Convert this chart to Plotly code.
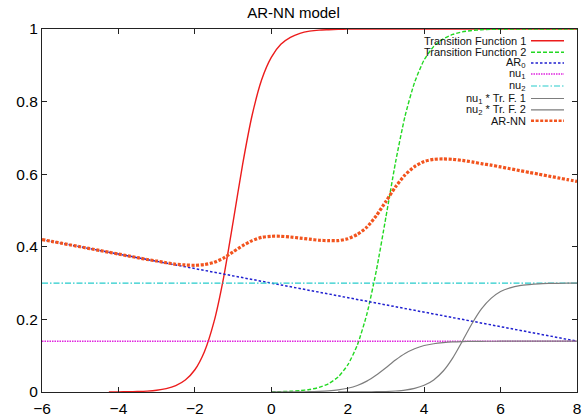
import numpy as np
import plotly.graph_objects as go

# sample positions along x (step 0.25 from -6 to 8)
x_grid = np.round(np.arange(-6, 8.001, 0.25), 2)

# Transition Function 1 (sampled from x = -4.25)
tf1_x = x_grid[7:]
tf1 = [0.0002, 0.0004, 0.0007, 0.0013, 0.0025, 0.0048, 0.0092, 0.0175, 0.0329, 0.0612,
       0.111, 0.193, 0.314, 0.468, 0.627, 0.763, 0.861, 0.922, 0.958, 0.977,
       0.988, 0.994, 0.997, 0.998, 0.999] + [1.0] * 25

# Transition Function 2 (sampled from x = 0)
tf2_x = x_grid[24:]
tf2 = [0.0006, 0.0011, 0.002, 0.0037, 0.0069, 0.0126, 0.023, 0.0415, 0.0744, 0.129,
       0.214, 0.335, 0.482, 0.632, 0.76, 0.853, 0.915, 0.952, 0.973, 0.985,
       0.992, 0.996, 0.998, 0.999, 0.999] + [1.0] * 8

# linear AR part, end points
ar0_x = [-6, 8]
ar0 = [0.42, 0.14]

# constant weights
nu1 = 0.14
nu2 = 0.30

# weighted transition curves
w1_x = x_grid[24:]
w1 = [0.0001, 0.0002, 0.0003, 0.0005, 0.001, 0.0018, 0.0032, 0.0058, 0.0104, 0.018,
      0.030, 0.047, 0.067, 0.088, 0.106, 0.119, 0.128, 0.133, 0.136, 0.138,
      0.139, 0.1394, 0.1397, 0.1398, 0.1399] + [0.14] * 8

w2_x = x_grid[31:]
w2 = [0.0001, 0.0001, 0.0002, 0.0004, 0.0008, 0.0014, 0.0028, 0.0052, 0.0099, 0.0184,
      0.0333, 0.0578, 0.0942, 0.14, 0.188, 0.229, 0.258, 0.277, 0.287, 0.293,
      0.296, 0.298, 0.299, 0.2995, 0.2997, 0.2998]

# full AR-NN output
arnn_x = x_grid
arnn = [0.420, 0.415, 0.410, 0.405, 0.400, 0.395, 0.390, 0.385, 0.380, 0.375,
        0.370, 0.365, 0.361, 0.356, 0.352, 0.350, 0.349, 0.351, 0.357, 0.369,
        0.386, 0.403, 0.417, 0.426, 0.429, 0.429, 0.427, 0.424, 0.421, 0.418,
        0.417, 0.417, 0.422, 0.434, 0.454, 0.486, 0.525, 0.565, 0.598, 0.621,
        0.635, 0.641, 0.642, 0.641, 0.638, 0.634, 0.629, 0.625, 0.620, 0.615,
        0.610, 0.605, 0.600, 0.595, 0.590, 0.585, 0.580]

x_ticks = [-6, -4, -2, 0, 2, 4, 6, 8]
y_ticks = [0, 0.2, 0.4, 0.6, 0.8, 1]
y_tick_text = ["0", "0.2", "0.4", "0.6", "0.8", "1"]

# series styles: (label, x, y, color, width, dash)
series = [
    ("Transition Function 1", tf1_x, tf1, "#ec1c1c", 1.4, "solid"),
    ("Transition Function 2", tf2_x, tf2, "#22d822", 1.4, "4px,2px"),
    ("AR<sub>0</sub>", ar0_x, ar0, "#2020d0", 1.5, "2.5px,2px"),
    ("nu<sub>1</sub>", [-6, 8], [nu1, nu1], "#e024e0", 1.5, "1.5px,1px"),
    ("nu<sub>2</sub>", [-6, 8], [nu2, nu2], "#26cccc", 1.2, "6px,2px,1.5px,2px"),
    ("nu<sub>1</sub> * Tr. F. 1", w1_x, w1, "#7d7d7d", 1.2, "solid"),
    ("nu<sub>2</sub> * Tr. F. 2", w2_x, w2, "#7d7d7d", 1.2, "solid"),
    ("AR-NN", arnn_x, arnn, "#f2541e", 3.2, "3px,1.6px"),
]

fig = go.Figure()
for name, xs, ys, color, width, dash in series:
    fig.add_trace(go.Scatter(
        x=list(xs), y=list(ys), mode="lines", name=name, showlegend=False,
        line=dict(color=color, width=width, dash=dash, shape="spline", smoothing=0.6),
    ))

# key in the upper right corner: right-aligned text with a line sample after it
L, R, T, B = 42, 10, 29, 28
W, H = 587, 420
pw, ph = W - L - R, H - T - B
key_text_x = (527 - L) / pw
key_x0 = (531 - L) / pw
key_x1 = (564 - L) / pw
key_rows_px = [40.7, 52.3, 63.0, 74.0, 86.0, 98.5, 109.8, 120.7]
for (name, xs, ys, color, width, dash), ypx in zip(series, key_rows_px):
    yp = (H - B - ypx) / ph
    fig.add_annotation(
        x=key_text_x, y=yp, xref="paper", yref="paper", text=name, showarrow=False,
        xanchor="right", yanchor="middle", borderpad=0,
        font=dict(family="Liberation Sans, Arial, sans-serif", size=11, color="#111"),
    )
    fig.add_shape(
        type="line", xref="paper", yref="paper", x0=key_x0, x1=key_x1, y0=yp, y1=yp,
        line=dict(color=color, width=min(width, 2.6), dash=dash),
    )

axis_common = dict(
    showline=True, mirror="ticks", linecolor="#222", linewidth=1,
    ticks="inside", ticklen=5, tickcolor="#222", showgrid=False, zeroline=False,
    automargin=False,
    tickfont=dict(family="Liberation Sans, Arial, sans-serif", size=15.5, color="#000"),
)

fig.update_layout(
    width=W, height=H,
    margin=dict(l=L, r=R, t=T, b=B),
    paper_bgcolor="white", plot_bgcolor="white",
    title=dict(text="AR-NN model", x=0.5, xref="container", y=1 - 13 / H, yanchor="middle",
               font=dict(family="Liberation Sans, Arial, sans-serif", size=15, color="#000")),
    xaxis=dict(range=[-6, 8], tickvals=x_ticks, ticklabelstandoff=2, **axis_common),
    yaxis=dict(range=[0, 1], tickvals=y_ticks, ticktext=y_tick_text, **axis_common),
)

fig.write_html("out.html")
